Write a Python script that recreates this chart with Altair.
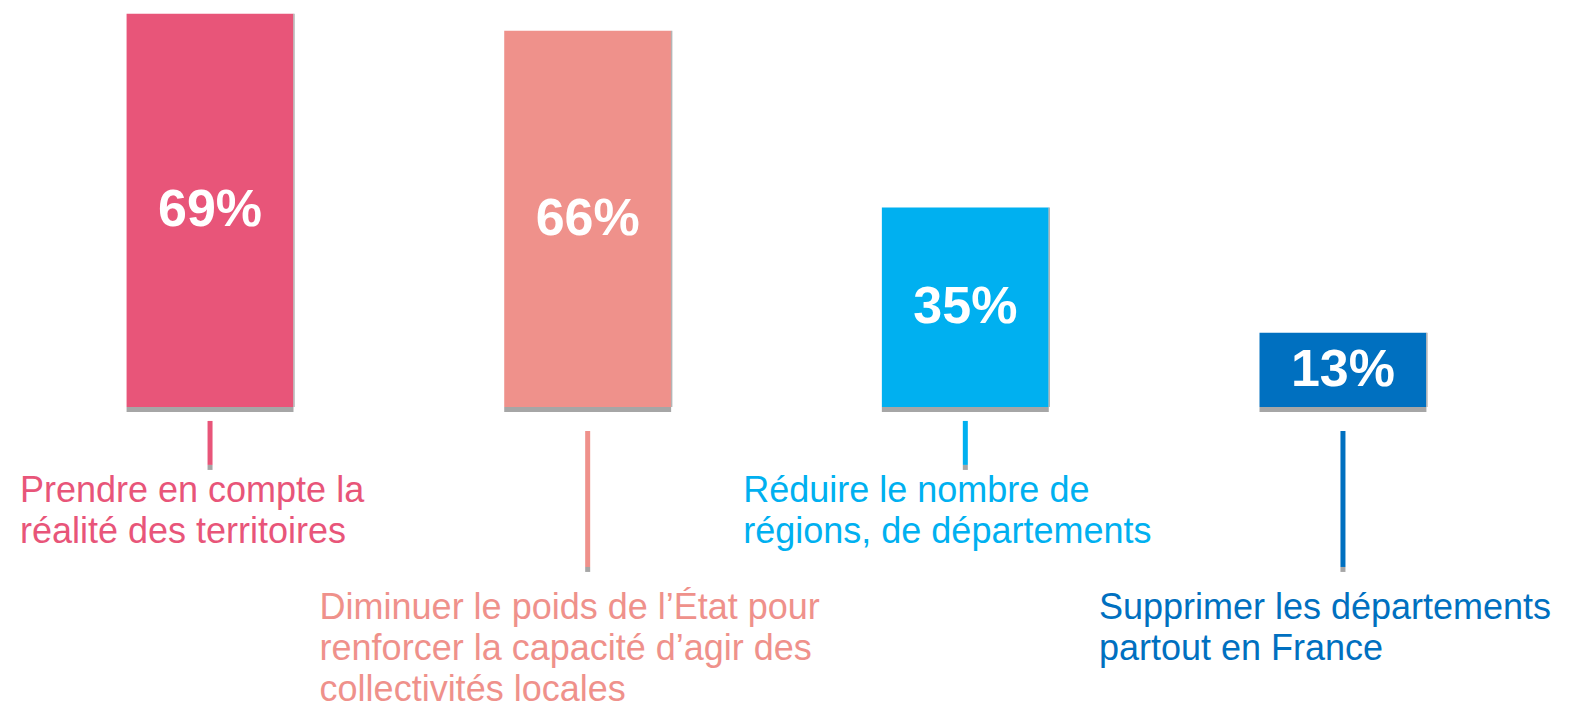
import altair as alt
import pandas as pd

# ---- data ----
categories = [
    "Prendre en compte la réalité des territoires",
    "Diminuer le poids de l’État pour renforcer la capacité d’agir des collectivités locales",
    "Réduire le nombre de régions, de départements",
    "Supprimer les départements partout en France",
]
values = [69, 66, 35, 13]
label_lines = [
    ["Prendre en compte la", "réalité des territoires"],
    ["Diminuer le poids de l’État pour", "renforcer la capacité d’agir des", "collectivités locales"],
    ["Réduire le nombre de", "régions, de départements"],
    ["Supprimer les départements", "partout en France"],
]
colors = ["#E85579", "#EF918B", "#00B0F0", "#0070C0"]

# ---- styling / layout ----
FONT = "Liberation Sans"
LABEL_SIZE = 36
LINE_H = 41
W, H = 1537, 697
Y_DOMAIN = [-52.3, 70]          # area below zero holds the leader lines and labels
PX = H / (Y_DOMAIN[1] - Y_DOMAIN[0])   # pixels per unit
GRAY = "#A6A6A6"

# leader / label geometry for the two staggered rows, in pixels below the baseline
ROWS = {
    0: dict(top=14, bottom=63, text=95),
    1: dict(top=24, bottom=165, text=212),
}

# approximate Arial advance widths (per 1000 em) to centre label blocks on their leaders
_w = {" ": 278, ",": 278, "’": 222, "a": 556, "b": 556, "c": 500, "d": 556, "e": 556, "f": 278,
      "g": 556, "h": 556, "i": 222, "j": 222, "k": 500, "l": 222, "m": 833, "n": 556, "o": 556,
      "p": 556, "q": 556, "r": 333, "s": 500, "t": 278, "u": 556, "v": 500, "w": 722, "x": 500,
      "y": 500, "z": 500, "é": 556, "É": 667, "D": 722, "F": 611, "P": 667, "R": 722, "S": 667}


def text_width(s):
    return sum(_w.get(ch, 556) for ch in s) * LABEL_SIZE / 1000.0


rows = []
for i, cat in enumerate(categories):
    r = ROWS[i % 2]
    rows.append({
        "cat": cat,
        "value": values[i],
        "mid": values[i] / 2,
        "pct": f"{values[i]}%",
        "label": "\n".join(label_lines[i]),
        "strip_top": 0.0,
        "strip_bot": -5 / PX,
        "stem_top": -r["top"] / PX,
        "stem_mid": -(r["bottom"] - 5) / PX,
        "stem_bot": -r["bottom"] / PX,
        "text_y": -r["text"] / PX,
    })
df = pd.DataFrame(rows)

xscale = alt.Scale(paddingInner=0.558, paddingOuter=0.314)
x = alt.X("cat:N", sort=categories, axis=None, scale=xscale)
x_edge = alt.X("cat:N", sort=categories, axis=None, scale=xscale, bandPosition=1)
yscale = alt.Scale(domain=Y_DOMAIN, nice=False, zero=False)
color = alt.Color("cat:N", sort=categories, legend=None,
                  scale=alt.Scale(domain=categories, range=colors))

base = alt.Chart(df)

bars = base.mark_bar().encode(
    x=x, y=alt.Y("value:Q", axis=None, scale=yscale), y2=alt.Y2("strip_top:Q"), color=color
)

edge = base.mark_rule(strokeWidth=1.5, color="#B4B4B4", xOffset=0.5).encode(
    x=x_edge, y=alt.Y("strip_top:Q", axis=None, scale=yscale), y2="value:Q"
)

strip = base.mark_bar(color=GRAY).encode(
    x=x, y=alt.Y("strip_top:Q", axis=None, scale=yscale), y2="strip_bot:Q"
)

pct = base.mark_text(
    font=FONT, fontSize=52, fontWeight="bold", color="white", baseline="middle"
).encode(x=x, y=alt.Y("mid:Q", axis=None, scale=yscale), text="pct:N")

stems = base.mark_rule(strokeWidth=5).encode(
    x=x, y=alt.Y("stem_top:Q", axis=None, scale=yscale), y2="stem_mid:Q", color=color
)
tips = base.mark_rule(strokeWidth=5, color=GRAY).encode(
    x=x, y=alt.Y("stem_mid:Q", axis=None, scale=yscale), y2="stem_bot:Q"
)

layers = [bars, edge, strip, pct, stems, tips]

for i, cat in enumerate(categories):
    widest = max(text_width(s) for s in label_lines[i])
    layers.append(
        base.transform_filter(alt.datum.cat == cat).mark_text(
            font=FONT, fontSize=LABEL_SIZE, lineHeight=LINE_H, lineBreak="\n",
            align="left", baseline="alphabetic", color=colors[i],
            dx=-(widest / 2) - 18,
        ).encode(x=x, y=alt.Y("text_y:Q", axis=None, scale=yscale), text="label:N")
    )

chart = alt.layer(*layers).properties(
    width=W, height=H, padding=0
).configure_view(stroke=None)

chart.save("out.html", embed_options={"renderer": "svg", "actions": False})
